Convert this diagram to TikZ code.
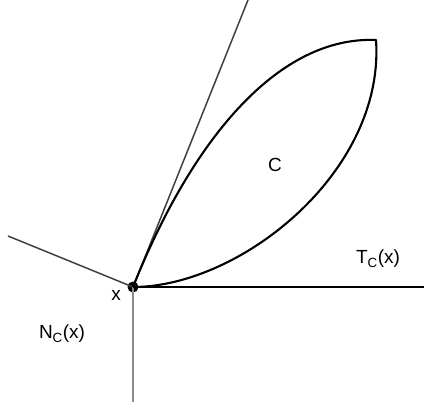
\documentclass[tikz,border=0pt]{standalone}
\usepackage{fontspec}
\setmainfont{Liberation Sans}
\usetikzlibrary{positioning, calc}
\tikzset{cone line/.style={draw,line width=1.5pt,black!75},
    set boundary/.style={draw,line width=2.1pt,black},
    point label/.style={font=\fontsize{19}{22}\selectfont, inner sep=0pt},
    base point/.style={circle,fill=black,minimum size=11pt,inner sep=0pt}}

\begin{document}
\begin{tikzpicture}[x=1pt,y=-1pt]
    \useasboundingbox (0,0) rectangle (424,402);

    % Base point and ends of the cone lines
    \node[base point] (x) at (133,287) {};
    \coordinate (tanUp) at (248,0);
    \coordinate (tanRight) at (424,287);
    \coordinate (normLeft) at (8,236);
    \coordinate (normDown) at (133,402);
    \coordinate (corner) at (376,40);

    % Tangent cone T_C(x)
    \draw[cone line] (x.center) -- (tanUp);
    \draw[set boundary, line width=1.8pt] (x.center) -- (tanRight);

    % Normal cone N_C(x)
    \draw[cone line] (x.center) -- (normLeft);
    \draw[cone line, black!45] (x.center) -- (normDown);

    % The set C
    \draw[set boundary, line join=round]
        (x.center) .. controls (195,132) and (282,36) .. (corner)
        .. controls (385,172) and (240,287) .. (x.center);

    % Labels
    \node[point label] (labelC) at (275,165) {C};
    \node[point label] (labelT) at (378,259) {T\textsubscript{C}(x)};
    \node[point label] (labelX) at (116,295) {x};
    \node[point label] (labelN) at (62,334) {N\textsubscript{C}(x)};
\end{tikzpicture}
\end{document}
